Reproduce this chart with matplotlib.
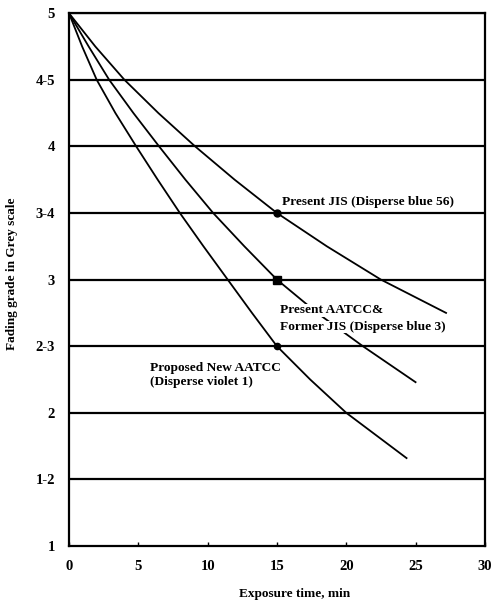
import matplotlib
matplotlib.use("Agg")
import matplotlib.pyplot as plt

plt.rcParams['font.family'] = ['Liberation Serif', 'DejaVu Serif']

# data (exposure time, fading grade)
jis_x = [0, 1.9, 4.0, 6.45, 9.1, 11.95, 15, 18.6, 22.5, 27.2]
jis_y = [5, 4.75, 4.5, 4.25, 4.0, 3.75, 3.5, 3.25, 3.0, 2.75]

aatcc_x = [0, 1.42, 2.9, 4.65, 6.5, 8.4, 10.4, 12.65, 15, 17.9, 21.2, 25.0]
aatcc_y = [5, 4.75, 4.5, 4.25, 4.0, 3.75, 3.5, 3.25, 3.0, 2.75, 2.5, 2.23]

prop_x = [0, 0.95, 2.0, 3.35, 4.85, 6.4, 8.0, 9.7, 11.45, 13.2, 15, 17.4, 20.0, 24.35]
prop_y = [5, 4.75, 4.5, 4.25, 4.0, 3.75, 3.5, 3.25, 3.0, 2.75, 2.5, 2.25, 2.0, 1.66]

# marked points at 15 min
mark_x = 15
jis_mark = 3.5
aatcc_mark = 3.0
prop_mark = 2.5

grade_ticks = [1, 1.5, 2, 2.5, 3, 3.5, 4, 4.5, 5]
grade_labels = ["1", "1-2", "2", "2-3", "3", "3-4", "4", "4-5", "5"]
time_ticks = [0, 5, 10, 15, 20, 25, 30]

fig = plt.figure(figsize=(4.91, 6.0), dpi=100)
ax = fig.add_axes([0.1405, 0.09, 0.847, 0.888])

for g in grade_ticks[1:]:
    ax.axhline(g, color='black', lw=1.6, zorder=1)

ax.plot(jis_x, jis_y, color='black', lw=1.3, zorder=2)
ax.plot(aatcc_x, aatcc_y, color='black', lw=1.3, zorder=2)
ax.plot(prop_x, prop_y, color='black', lw=1.3, zorder=2)

ax.plot(mark_x, jis_mark, 'o', color='black', ms=5, zorder=3)
ax.plot(mark_x, aatcc_mark, 's', color='black', ms=5.5, zorder=3)
ax.plot(mark_x, prop_mark, 'o', color='black', ms=4.5, zorder=3)

fs = 9.6
ax.text(15.4, 3.58, "Present JIS (Disperse blue 56)", fontsize=fs, va='center',
        fontweight='bold')
ax.text(15.2, 2.77, "Present AATCC&", fontsize=fs, va='center', fontweight='bold',
        bbox=dict(fc='white', ec='none', pad=0.2))
ax.text(15.2, 2.645, "Former JIS (Disperse blue 3)", fontsize=fs, va='center',
        fontweight='bold', bbox=dict(fc='white', ec='none', pad=0.2))
ax.text(5.84, 2.34, "Proposed New AATCC", fontsize=fs, va='center', fontweight='bold')
ax.text(5.84, 2.23, "(Disperse violet 1)", fontsize=fs, va='center', fontweight='bold')

ax.set_xlim(0, 30)
ax.set_ylim(1, 5)
ax.set_xticks(time_ticks)
ax.set_yticks(grade_ticks)
ax.set_yticklabels(grade_labels)
ax.tick_params(axis='x', direction='in', length=3, width=1, pad=10, labelsize=10.5)
ax.tick_params(axis='y', length=0, pad=10, labelsize=10.5)
for lab in ax.get_xticklabels() + ax.get_yticklabels():
    lab.set_fontweight('bold')

for s in ['left', 'bottom', 'right', 'top']:
    ax.spines[s].set_linewidth(1.6)

ax.set_xlabel("Exposure time, min", fontsize=9.5, fontweight='bold')
ax.set_ylabel("Fading grade in Grey scale", fontsize=9.5, fontweight='bold')
ax.xaxis.set_label_coords(0.543, -0.079)
ax.yaxis.set_label_coords(-0.1226, 0.511)

fig.savefig("out.png", dpi=100)
